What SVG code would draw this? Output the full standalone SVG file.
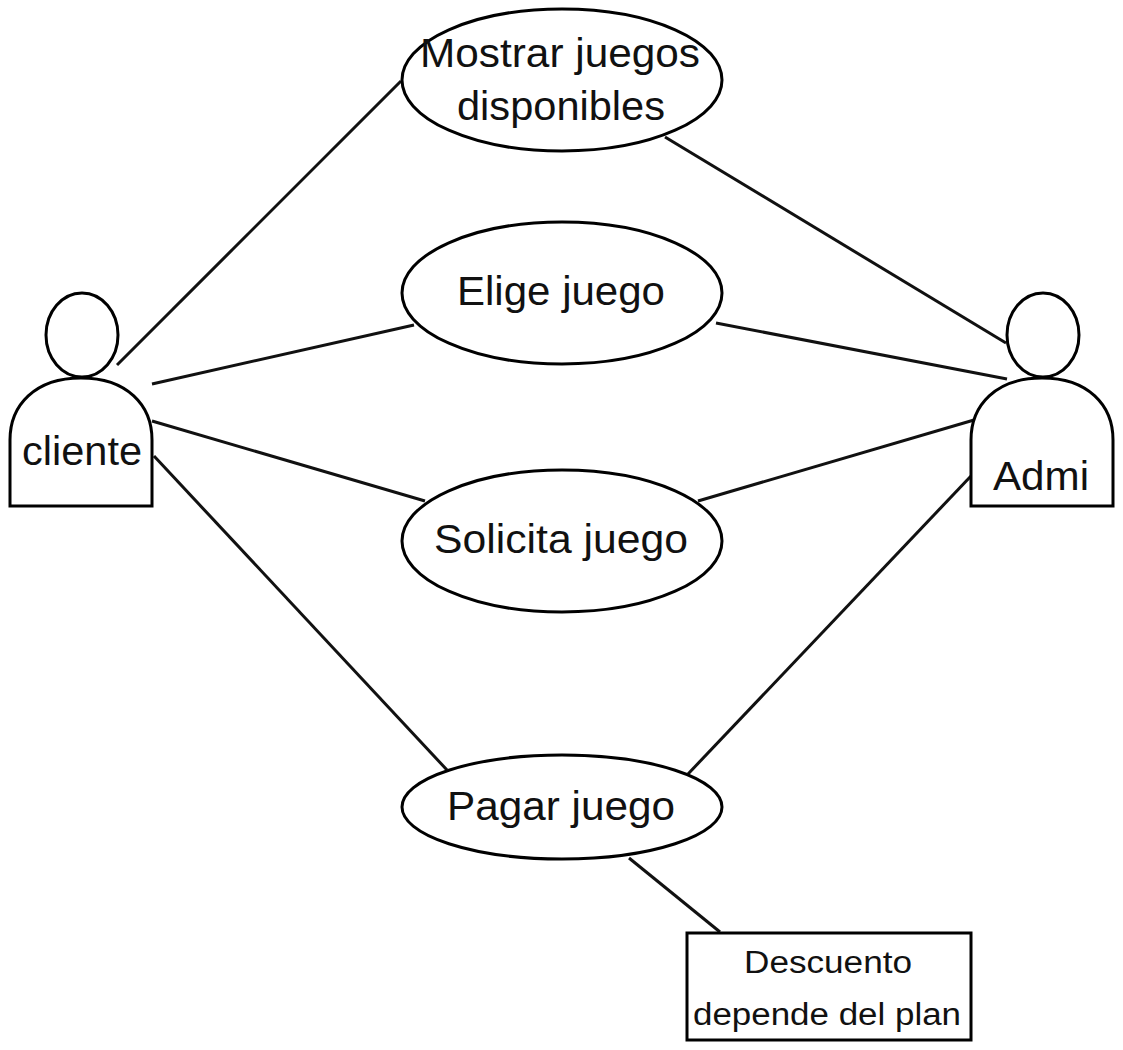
<svg xmlns="http://www.w3.org/2000/svg" width="1123" height="1050" viewBox="0 0 1123 1050">
<style>
.s{fill:#fff;stroke:#000;stroke-width:3}
.c{fill:none;stroke:#111;stroke-width:3}
text{font-family:"Liberation Sans",Arial,sans-serif;fill:#111;text-anchor:middle}
.l{font-size:40px}
.m{font-size:31px}
</style>
<rect width="1123" height="1050" fill="#fff"/>
<g id="connectors">
<path class="c" d="M117 365L401 81"/>
<path class="c" d="M152 384L414 325"/>
<path class="c" d="M152 421L425 501"/>
<path class="c" d="M154 456L447 770"/>
<path class="c" d="M665 137L1006 343"/>
<path class="c" d="M716 323L1007 379"/>
<path class="c" d="M698 501L974 420"/>
<path class="c" d="M688 774L971 476"/>
<path class="c" d="M629 858L720 932"/>
</g>
<g id="cliente">
<path class="s" d="M10 506V440C10 405 35 378 81 378C127 378 152 405 152 440V506Z"/>
<ellipse class="s" cx="82" cy="335" rx="36" ry="42"/>
<text class="l" x="82" y="465" textLength="120" lengthAdjust="spacingAndGlyphs">cliente</text>
</g>
<g id="admi">
<path class="s" d="M971 506V440C971 405 996 378 1042 378C1088 378 1113 405 1113 440V506Z"/>
<ellipse class="s" cx="1043" cy="335" rx="36" ry="42"/>
<text class="l" x="1041" y="490" textLength="96" lengthAdjust="spacingAndGlyphs">Admi</text>
</g>
<g id="mostrar">
<ellipse class="s" cx="562" cy="80" rx="160" ry="71"/>
<text class="l" x="560" y="67" textLength="280" lengthAdjust="spacingAndGlyphs">Mostrar juegos</text>
<text class="l" x="561" y="120" textLength="208" lengthAdjust="spacingAndGlyphs">disponibles</text>
</g>
<g id="elige">
<ellipse class="s" cx="562" cy="293" rx="160" ry="71"/>
<text class="l" x="561" y="305" textLength="208" lengthAdjust="spacingAndGlyphs">Elige juego</text>
</g>
<g id="solicita">
<ellipse class="s" cx="562" cy="541" rx="160" ry="71"/>
<text class="l" x="561" y="553" textLength="254" lengthAdjust="spacingAndGlyphs">Solicita juego</text>
</g>
<g id="pagar">
<ellipse class="s" cx="562" cy="807" rx="160" ry="52"/>
<text class="l" x="561" y="820" textLength="228" lengthAdjust="spacingAndGlyphs">Pagar juego</text>
</g>
<g id="descuento">
<rect class="s" x="687" y="933" width="284" height="107"/>
<text class="m" x="828" y="973" textLength="168" lengthAdjust="spacingAndGlyphs">Descuento</text>
<text class="m" x="827" y="1025" textLength="268" lengthAdjust="spacingAndGlyphs">depende del plan</text>
</g>
</svg>
